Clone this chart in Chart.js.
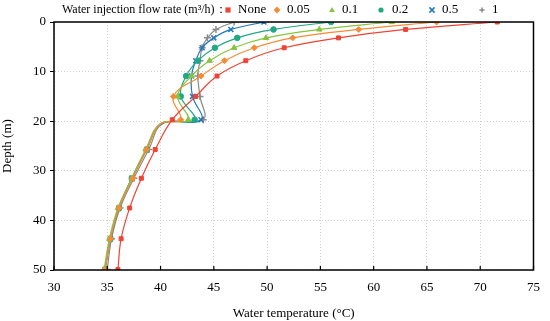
<!DOCTYPE html>
<html>
<head>
<meta charset="utf-8">
<script src="https://cdn.jsdelivr.net/npm/chart.js@4.4.1/dist/chart.umd.min.js"></script>
<style>
  html, body { margin: 0; padding: 0; background: #fff; }
  #wrap { width: 550px; height: 321px; }
</style>
</head>
<body>
<div id="wrap"><canvas id="chart_area"></canvas></div>
<script>
// depth of measuring points (m)
const depthNone = [0, 1.5, 3.2, 5.2, 7.8, 10.9, 15, 19.7, 25.7, 31.5, 37.5, 43.7, 49.9];
// injection cases have one extra point just under 20 m (no marker there)
const depthInj = [0, 1.5, 3.2, 5.2, 7.8, 10.9, 15, 19.7, 20.5, 25.7, 31.5, 37.5, 43.7, 49.9];
const hiddenIdx = 8;

// water temperature (°C)
const tempNone = [71.6, 63.0, 56.7, 51.6, 48.0, 45.3, 43.3, 41.1, 39.5, 38.2, 37.1, 36.3, 36.0];
const temp005  = [65.9, 58.6, 52.4, 48.8, 46.0, 43.8, 41.2, 41.9, 40.0, 38.7, 37.4, 36.1, 35.3, 34.8];
const temp01   = [61.7, 54.9, 49.9, 46.9, 44.6, 42.9, 41.6, 42.6, 40.0, 38.6, 37.3, 36.0, 35.2, 34.7];
const temp02   = [56.0, 50.6, 47.2, 45.1, 43.5, 42.4, 41.9, 43.2, 40.0, 38.7, 37.3, 36.1, 35.3, 34.8];
const temp05   = [49.7, 46.6, 45.0, 43.9, 43.3, 42.9, 43.0, 43.8, 40.1, 38.7, 37.3, 36.1, 35.3, 34.8];
const temp1    = [46.9, 45.2, 44.4, 43.9, 43.7, 43.5, 43.7, 44.0, 40.2, 38.9, 37.5, 36.2, 35.4, 35.0];

const seriesLabels = ['None', '0.05', '0.1', '0.2', '0.5', '1'];
const xTicks = [30, 35, 40, 45, 50, 55, 60, 65, 70, 75];
const yTicks = [0, 10, 20, 30, 40, 50];

const FONT = "'Liberation Serif', 'Times New Roman', serif";

const toPts = (xs, ys) => xs.map((t, i) => ({ x: t, y: ys[i] }));

function mkSet(label, temps, depths, color, style, radius, hideOne) {
  return {
    label: label,
    data: toPts(temps, depths),
    showLine: true,
    borderColor: color,
    backgroundColor: color,
    borderWidth: 1.2,
    tension: 0.4,
    pointStyle: style,
    pointRadius: (c) => (hideOne && c.dataIndex === hiddenIdx) ? 0 : radius,
    pointBorderWidth: (style === 'cross' || style === 'crossRot') ? 1.5 : 1,
    pointHoverRadius: radius
  };
}

const datasets = [
  mkSet(seriesLabels[0], tempNone, depthNone, '#ee4435', 'rect', 2.8, false),
  mkSet(seriesLabels[1], temp005, depthInj, '#f68b36', 'rectRot', 3, true),
  mkSet(seriesLabels[2], temp01, depthInj, '#86c440', 'triangle', 3.2, true),
  mkSet(seriesLabels[3], temp02, depthInj, '#22a884', 'circle', 2.8, true),
  mkSet(seriesLabels[4], temp05, depthInj, '#2178bd', 'crossRot', 3.5, true),
  mkSet(seriesLabels[5], temp1, depthInj, '#8a8a8a', 'cross', 3.5, true)
];

// legend row at top: title + marker/label pairs
const legendMarkX = [228, 277, 332, 381, 432, 482];
const legendTextX = [238, 287, 342, 392, 442, 492];

function drawMarker(ctx, style, x, y, r, color) {
  ctx.save();
  ctx.fillStyle = color;
  ctx.strokeStyle = color;
  ctx.lineWidth = 1.5;
  ctx.beginPath();
  if (style === 'rect') {
    ctx.fillRect(x - r, y - r, 2 * r, 2 * r);
  } else if (style === 'rectRot') {
    ctx.moveTo(x, y - r * 1.3); ctx.lineTo(x + r * 1.3, y);
    ctx.lineTo(x, y + r * 1.3); ctx.lineTo(x - r * 1.3, y);
    ctx.closePath(); ctx.fill();
  } else if (style === 'triangle') {
    ctx.moveTo(x, y - r * 1.2); ctx.lineTo(x + r * 1.1, y + r * 0.8);
    ctx.lineTo(x - r * 1.1, y + r * 0.8); ctx.closePath(); ctx.fill();
  } else if (style === 'circle') {
    ctx.arc(x, y, r, 0, Math.PI * 2); ctx.fill();
  } else if (style === 'crossRot') {
    ctx.moveTo(x - r, y - r); ctx.lineTo(x + r, y + r);
    ctx.moveTo(x + r, y - r); ctx.lineTo(x - r, y + r); ctx.stroke();
  } else {
    ctx.moveTo(x - r, y); ctx.lineTo(x + r, y);
    ctx.moveTo(x, y - r); ctx.lineTo(x, y + r); ctx.stroke();
  }
  ctx.restore();
}

const framePlugin = {
  id: 'frame',
  afterDraw(chart) {
    const ctx = chart.ctx;
    const a = chart.chartArea;
    const xs = chart.scales.x;
    ctx.save();
    // box round plot area
    ctx.strokeStyle = '#000';
    ctx.lineWidth = 1.5;
    ctx.strokeRect(a.left, a.top, a.right - a.left, a.bottom - a.top);
    // inward ticks on bottom axis
    ctx.lineWidth = 1.2;
    ctx.beginPath();
    xTicks.forEach(function (v) {
      const px = xs.getPixelForValue(v);
      ctx.moveTo(px, a.bottom);
      ctx.lineTo(px, a.bottom - 4);
    });
    ctx.stroke();
    // legend
    const ly = 10;
    ctx.fillStyle = '#000';
    ctx.font = '12px ' + FONT;
    ctx.textBaseline = 'middle';
    ctx.textAlign = 'left';
    ctx.fillText('Water injection flow rate (m\u00b3/h)\uff1a', 62, ly);
    ctx.font = '13px ' + FONT;
    chart.data.datasets.forEach(function (ds, i) {
      drawMarker(ctx, ds.pointStyle, legendMarkX[i], ly, 2.6, ds.borderColor);
      ctx.fillStyle = '#000';
      ctx.fillText(ds.label, legendTextX[i], ly);
    });
    ctx.restore();
  }
};

new Chart(document.getElementById('chart_area').getContext('2d'), {
  type: 'scatter',
  data: { datasets: datasets },
  options: {
    responsive: true,
    maintainAspectRatio: false,
    animation: false,
    layout: { padding: { top: 22, right: 10, left: 0, bottom: 0 } },
    plugins: {
      legend: { display: false },
      tooltip: { enabled: false }
    },
    scales: {
      x: {
        type: 'linear',
        min: 30,
        max: 75,
        afterBuildTicks: (s) => { s.ticks = xTicks.map(v => ({ value: v })); },
        afterFit: (s) => { s.height = 51; },
        ticks: { color: '#000', font: { family: FONT, size: 13 }, padding: 10 },
        grid: { color: '#cfcfcf', drawTicks: false },
        border: { display: true, color: 'rgba(0,0,0,0)', dash: [1, 2] },
        title: {
          display: true,
          text: 'Water temperature (\u00b0C)',
          color: '#000',
          font: { family: FONT, size: 13 },
          padding: { top: 4, bottom: 0 }
        }
      },
      y: {
        type: 'linear',
        reverse: true,
        min: 0,
        max: 50,
        afterBuildTicks: (s) => { s.ticks = yTicks.map(v => ({ value: v })); },
        afterFit: (s) => { s.width = 54; },
        ticks: { color: '#000', font: { family: FONT, size: 13 }, padding: 4 },
        grid: { color: '#cfcfcf', tickColor: '#000', tickLength: 4, tickBorderDash: [] },
        border: { display: true, color: 'rgba(0,0,0,0)', dash: [1, 2] },
        title: {
          display: true,
          text: 'Depth (m)',
          color: '#000',
          font: { family: FONT, size: 13 },
          padding: { top: 0, bottom: 2 }
        }
      }
    }
  },
  plugins: [framePlugin]
});
</script>
</body>
</html>
